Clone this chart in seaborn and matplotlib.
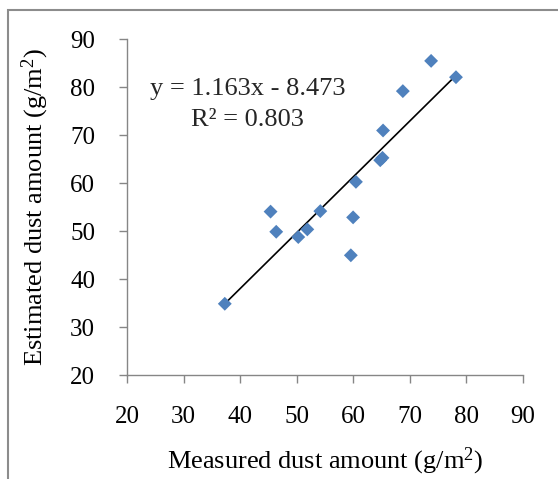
import matplotlib
matplotlib.use("Agg")
import matplotlib.pyplot as plt
import seaborn as sns
import numpy as np
import pandas as pd
from matplotlib.patches import Rectangle

measured = [37.3, 45.4, 46.4, 50.3, 51.9, 54.2, 59.6, 60.0, 60.5, 64.8, 65.2, 65.3, 68.8, 73.8, 78.2]
estimated = [34.9, 54.1, 49.9, 48.8, 50.4, 54.2, 45.0, 52.9, 60.3, 64.8, 65.3, 71.0, 79.2, 85.5, 82.1]
slope = 1.163
intercept = -8.473
r2 = 0.803
ticks = [20, 30, 40, 50, 60, 70, 80, 90]

sns.set_theme(style="white")
plt.rcParams['font.family'] = ['Liberation Serif', 'DejaVu Serif']
plt.rcParams['mathtext.fontset'] = 'custom'
plt.rcParams['mathtext.rm'] = 'Liberation Serif'
plt.rcParams['mathtext.it'] = 'Liberation Serif:italic'
plt.rcParams['mathtext.bf'] = 'Liberation Serif:bold'

df = pd.DataFrame({"measured": measured, "estimated": estimated})
xs = np.array([min(measured), max(measured)])
line_df = pd.DataFrame({"x": xs, "y": slope * xs + intercept})

fig = plt.figure(figsize=(5.58, 4.79), dpi=100)
ax = fig.add_axes([0.2276, 0.2165, 0.7091, 0.7015])

sns.lineplot(data=line_df, x="x", y="y", ax=ax, color="black", linewidth=1.2, zorder=2)
sns.scatterplot(data=df, x="measured", y="estimated", ax=ax, marker="D", s=50,
                color="#4F81BD", edgecolor="none", zorder=3)

ax.set_xlim(20, 90)
ax.set_ylim(20, 90)
ax.set_xticks(ticks)
ax.set_yticks(ticks)
ax.set_xticklabels([str(t) for t in ticks])
ax.set_yticklabels([str(t) for t in ticks])

for side in ["top", "right"]:
    ax.spines[side].set_visible(False)
for side in ["left", "bottom"]:
    ax.spines[side].set_color("#868686")
    ax.spines[side].set_linewidth(1.0)

ax.tick_params(axis="both", which="major", direction="out", length=6, width=1.0,
               color="#868686", labelsize=18, labelcolor="black")
ax.tick_params(axis="x", pad=16, bottom=True)
ax.tick_params(axis="y", pad=17, left=True)

ax.set_xlabel(r"Measured dust amount (g/m$^{\mathrm{2}}$)", fontsize=19, labelpad=13, color="black")
ax.set_ylabel(r"Estimated dust amount (g/m$^{\mathrm{2}}$)", fontsize=19, labelpad=14, color="black")

ax.text(24.1, 78.4, f"y = {slope}x - {abs(intercept)}", fontsize=19, ha="left", va="baseline")
ax.text(31.4, 71.9, f"R\u00b2 = {r2}", fontsize=19, ha="left", va="baseline")

fig.patches.append(Rectangle((8/558, -0.1), 1.2, 1 - 10/479 + 0.1, transform=fig.transFigure,
                             fill=False, edgecolor="#8C8C8C", linewidth=1.5, zorder=0))

fig.savefig("out.png", dpi=100)
